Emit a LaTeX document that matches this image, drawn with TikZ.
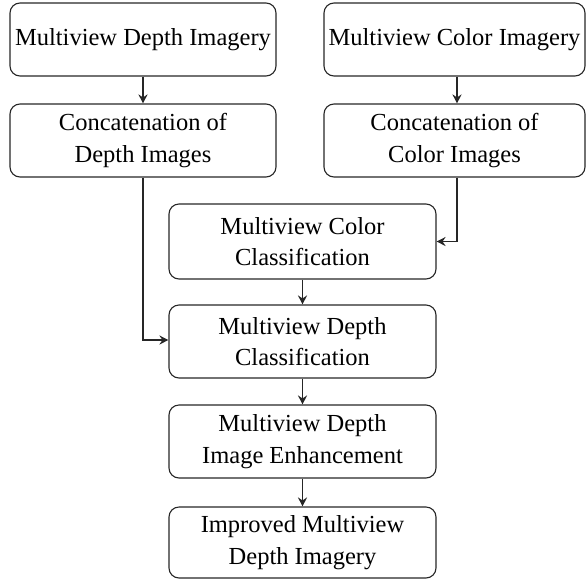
\documentclass[tikz,border=0pt]{standalone}
\usepackage{fontspec}
\setmainfont{Liberation Serif}
\usetikzlibrary{arrows.meta}
\begin{document}
\begin{tikzpicture}[x=1pt,y=-1pt,
  box/.style={draw=black!85, line width=1.1pt, rounded corners=10pt, inner sep=0pt,
    align=center, font=\fontsize{24.5}{31.5}\selectfont, anchor=center},
  arr/.style={draw=black!85, line width=1.5pt, -{Stealth[length=9pt,width=9pt,inset=3pt]}}]
\useasboundingbox (0,0) rectangle (586,579);
\node[box, minimum width=266pt, minimum height=73pt] (d1) at (143,39.5) {Multiview Depth Imagery};
\node[box, minimum width=266pt, minimum height=73pt] (d2) at (143,140.5) {Concatenation of\\Depth Images};
\node[box, minimum width=261pt, minimum height=73pt] (c1) at (454.5,39.5) {Multiview Color Imagery};
\node[box, minimum width=261pt, minimum height=73pt] (c2) at (454.5,140.5) {Concatenation of\\Color Images};
\node[box, minimum width=267pt, minimum height=75pt] (cc) at (302.5,241.5) {Multiview Color\\Classification};
\node[box, minimum width=267pt, minimum height=73pt] (dc) at (302.5,341.5) {Multiview Depth\\Classification};
\node[box, minimum width=267pt, minimum height=73pt] (en) at (302.5,441.5) {Multiview Depth\\Image Enhancement};
\node[box, minimum width=267pt, minimum height=71pt] (im) at (302.5,542.5) {Improved Multiview\\Depth Imagery};
\draw[arr] (d1) -- (d2);
\draw[arr] ([xshift=2.5pt]c1.south) -- ([xshift=2.5pt]c2.north);
\draw[arr] ([xshift=2.5pt]c2.south) |- (cc.east);
\draw[arr] (d2.south) |- ([yshift=1.5pt]dc.west);
\draw[arr] (cc) -- (dc);
\draw[arr] (dc) -- (en);
\draw[arr] (en) -- (im);
\end{tikzpicture}
\end{document}
